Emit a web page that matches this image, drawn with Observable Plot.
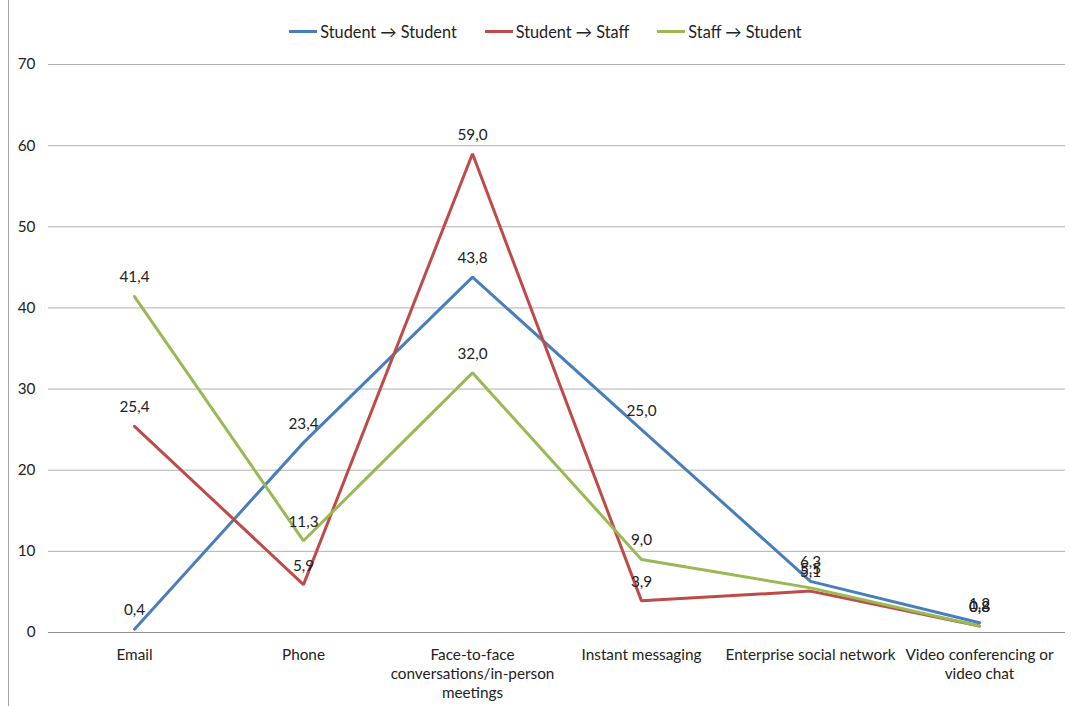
<!DOCTYPE html>
<html>
<head>
<meta charset="utf-8">
<script src="https://cdn.jsdelivr.net/npm/d3@7"></script>
<script src="https://cdn.jsdelivr.net/npm/@observablehq/plot@0.6"></script>
<style>
  html, body { margin: 0; padding: 0; background: #fff; }
  #wrap { position: relative; width: 1071px; height: 706px; overflow: hidden; font-family: Lato, "Liberation Sans", sans-serif; }
  #frame { position: absolute; left: 8px; top: 0; width: 1px; height: 706px; background: #a6a6a6; }
  #legend { position: absolute; top: 22px; left: 10px; width: 1071px; display: flex; justify-content: center; gap: 28px; font-size: 16.3px; color: #222; }
  .item { display: flex; align-items: center; }
  .sw { width: 28px; height: 3px; margin-right: 3px; }
  #chart { position: absolute; left: 0; top: 0; }
</style>
</head>
<body>
<div id="wrap">
  <div id="frame"></div>
  <div id="chart"></div>
  <div id="legend"></div>
</div>
<script>
const categories = ["Email", "Phone", "Face-to-face conversations/in-person meetings", "Instant messaging", "Enterprise social network", "Video conferencing or video chat"];
const tickLabels = ["Email", "Phone", "Face-to-face\nconversations/in-person\nmeetings", "Instant messaging", "Enterprise social network", "Video conferencing or\nvideo chat"];
const seriesNames = ["Student \u2192 Student", "Student \u2192 Staff", "Staff \u2192 Student"];
const studentToStudent = [0.4, 23.4, 43.8, 25.0, 6.3, 1.2];
const studentToStaff = [25.4, 5.9, 59.0, 3.9, 5.1, 0.8];
const staffToStudent = [41.4, 11.3, 32.0, 9.0, 5.5, 0.8];
const colors = ["#4a7ebb", "#be4b48", "#98b954"];
const yTicks = [0, 10, 20, 30, 40, 50, 60, 70];

const seriesValues = [studentToStudent, studentToStaff, staffToStudent];
const data = [];
seriesNames.forEach((s, si) => {
  categories.forEach((c, ci) => data.push({series: s, category: c, value: seriesValues[si][ci]}));
});
const fmt = v => d3.format(".1f")(v).replace(".", ",");
const labelOf = new Map(categories.map((c, i) => [c, tickLabels[i]]));
const fs = 15.3;

const chart = Plot.plot({
  width: 1071,
  height: 706,
  marginLeft: 48,
  marginRight: 6,
  marginTop: 64,
  marginBottom: 74,
  style: {fontFamily: "Lato, 'Liberation Sans', sans-serif", fontSize: fs + "px", color: "#222", background: "transparent"},
  x: {type: "point", domain: categories, padding: 0.5},
  y: {domain: [0, 70]},
  color: {domain: seriesNames, range: colors},
  marks: [
    Plot.gridY(yTicks, {stroke: "#b0b0b0", strokeOpacity: 1, strokeWidth: 1}),
    Plot.ruleY([0], {stroke: "#909090", strokeWidth: 1}),
    Plot.axisY(yTicks, {tickSize: 0, tickPadding: 13, label: null, fontSize: fs, fill: "#222"}),
    Plot.axisX({tickSize: 0, tickPadding: 14, label: null, fontSize: fs, fill: "#222", lineHeight: 1.25, tickFormat: c => labelOf.get(c), textAnchor: "middle"}),
    Plot.line(data, {x: "category", y: "value", z: "series", stroke: "series", strokeWidth: 3, strokeLinejoin: "miter"}),
    Plot.text(data, {x: "category", y: "value", text: d => fmt(d.value), dy: -19, fontSize: fs, fill: "#222"})
  ]
});
document.getElementById("chart").appendChild(chart);

const legend = document.getElementById("legend");
seriesNames.forEach((s, i) => {
  const it = document.createElement("div");
  it.className = "item";
  const sw = document.createElement("span");
  sw.className = "sw";
  sw.style.background = colors[i];
  const t = document.createElement("span");
  t.textContent = s;
  it.appendChild(sw);
  it.appendChild(t);
  legend.appendChild(it);
});
</script>
</body>
</html>
